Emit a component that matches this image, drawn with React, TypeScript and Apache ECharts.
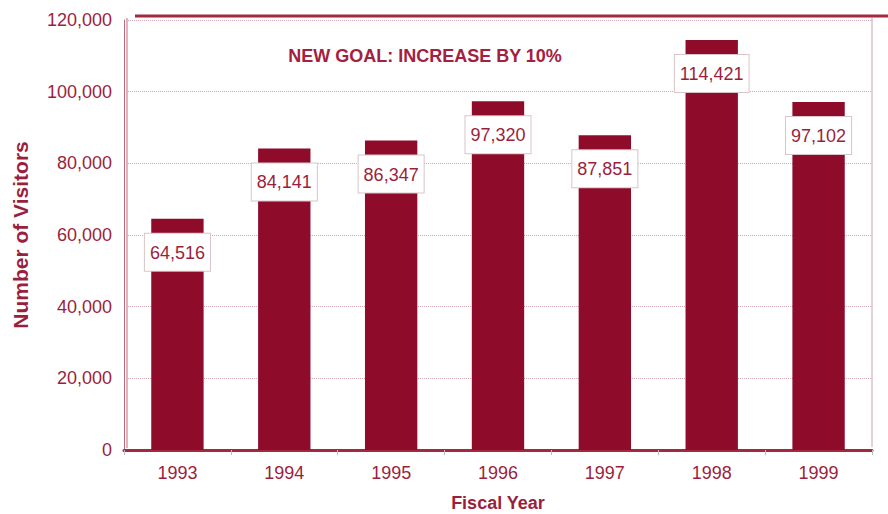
import React, { useEffect, useRef } from "react";
import * as echarts from "echarts";

const years = ["1993", "1994", "1995", "1996", "1997", "1998", "1999"];
const visitors = [64516, 84141, 86347, 97320, 87851, 114421, 97102];
const goalText = "NEW GOAL: INCREASE BY 10%";

const RED = "#8e0c2a";
const TEXT = "#9a1f3e";

export default function App() {
  const ref = useRef<HTMLDivElement>(null);
  useEffect(() => {
    if (!ref.current) return;
    const chart = echarts.init(ref.current, null, { renderer: "svg" });
    chart.setOption({
      animation: false,
      backgroundColor: "#ffffff",
      textStyle: { fontFamily: "Liberation Sans, Arial, sans-serif" },
      grid: { left: 124, right: 16, top: 20, bottom: 64, containLabel: false, outerBoundsMode: "none" },
      xAxis: {
        type: "category",
        data: years,
        name: "Fiscal Year",
        nameLocation: "middle",
        nameGap: 44,
        nameTextStyle: { color: TEXT, fontSize: 18, fontWeight: "bold" },
        axisLine: { lineStyle: { color: "#a3293f", width: 3 } },
        axisTick: { show: true, length: 5, lineStyle: { color: "#bbbbbb" } },
        axisLabel: { color: TEXT, fontSize: 18, margin: 14 },
      },
      yAxis: {
        type: "value",
        min: 0,
        max: 120000,
        interval: 20000,
        name: "Number of Visitors",
        nameLocation: "middle",
        nameGap: 93,
        nameTextStyle: { color: TEXT, fontSize: 21, fontWeight: "bold" },
        axisLine: { show: true, lineStyle: { color: "#c06a7c", width: 1 } },
        axisTick: { show: false },
        axisLabel: {
          color: TEXT,
          fontSize: 18,
          margin: 12,
          formatter: (v: number) => v.toLocaleString("en-US"),
        },
        splitLine: {
          lineStyle: { color: "#cfa8b2", type: "dotted", width: 1 },
        },
      },
      series: [
        {
          type: "bar",
          data: visitors,
          barWidth: "49%",
          itemStyle: { color: RED },
          label: {
            show: true,
            position: "insideTop",
            distance: 15,
            formatter: (p: any) => Number(p.value).toLocaleString("en-US"),
            color: TEXT,
            fontSize: 18,
            backgroundColor: "#ffffff",
            borderColor: "#d9c4c8",
            borderWidth: 1,
            padding: [10, 5, 9, 5],
          },
        },
      ],
      graphic: [
        {
          type: "line",
          shape: { x1: 135, y1: 16, x2: 888, y2: 16 },
          style: { stroke: "#a3293f", lineWidth: 3 },
        },
        {
          type: "line",
          shape: { x1: 872, y1: 17, x2: 872, y2: 447 },
          style: { stroke: "#c9a0aa", lineWidth: 1 },
        },
        {
          type: "line",
          shape: { x1: 127, y1: 18, x2: 127, y2: 448 },
          style: { stroke: "#c06a7c", lineWidth: 1 },
        },
        {
          type: "text",
          x: 425,
          y: 56,
          style: {
            text: goalText,
            fill: "#a3213f",
            font: "bold 18px 'Liberation Sans Narrow', 'Liberation Sans', Arial, sans-serif",
            align: "center",
            verticalAlign: "middle",
          },
        },
      ],
    });
    return () => chart.dispose();
  }, []);
  return <div ref={ref} style={{ width: 888, height: 514, position: "absolute", left: 0, top: 0 }} />;
}
